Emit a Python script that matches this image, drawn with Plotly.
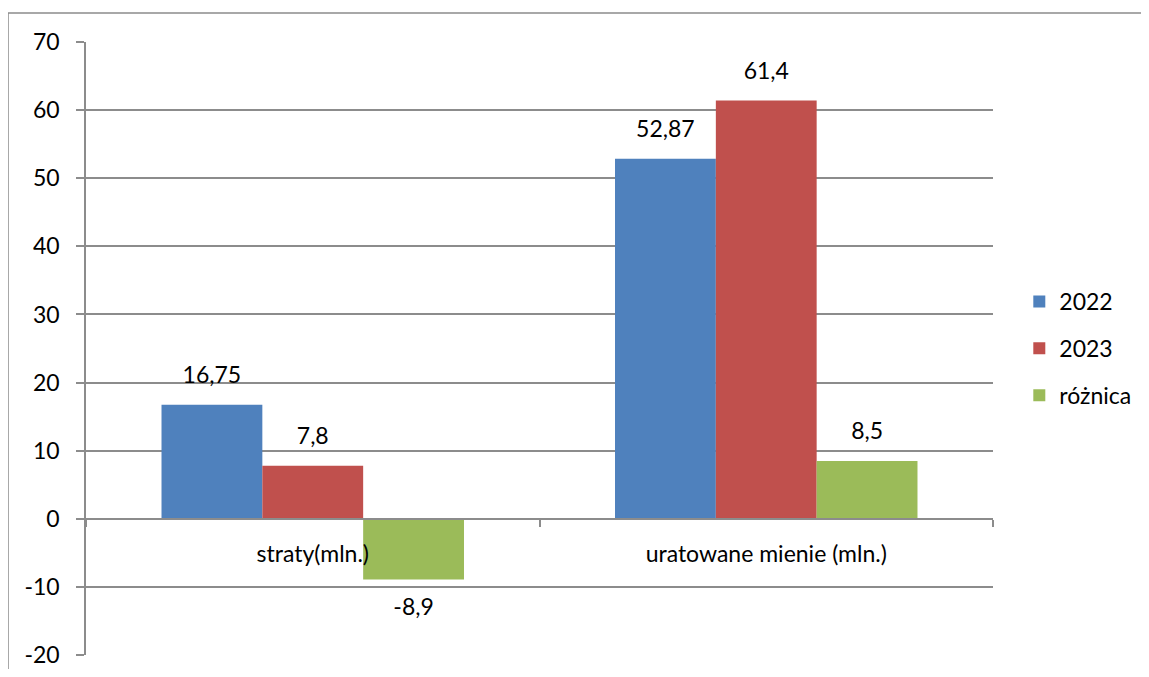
import plotly.graph_objects as go

categories = ["straty(mln.)", "uratowane mienie (mln.)"]
series_names = ["2022", "2023", "różnica"]
values_2022 = [16.75, 52.87]
values_2023 = [7.8, 61.4]
values_roznica = [-8.9, 8.5]
y_ticks = [-20, -10, 0, 10, 20, 30, 40, 50, 60, 70]

colors = ["#4F81BD", "#C0504D", "#9BBB59"]
grid = "#8C8C8C"
font_family = "Lato, 'Noto Sans', sans-serif"
FS = 23
GAP = 0.333

def fmt(v):
    return str(v).replace(".", ",")

fig = go.Figure()
all_vals = [values_2022, values_2023, values_roznica]
for name, vals, col in zip(series_names, all_vals, colors):
    fig.add_trace(go.Bar(
        x=categories, y=vals, name=name, legendgroup=name, offsetgroup=name,
        marker=dict(color=col, line=dict(width=0)),
        hoverinfo="skip",
    ))
for name, vals in zip(series_names, all_vals):
    fig.add_trace(go.Scatter(
        x=categories, y=vals, mode="markers+text", offsetgroup=name,
        marker=dict(size=[24 if v >= 0 else 28 for v in vals], opacity=0), showlegend=False,
        text=[fmt(v) for v in vals],
        textposition=["top center" if v >= 0 else "bottom center" for v in vals],
        textfont=dict(size=FS, color="black", family=font_family),
        cliponaxis=False, hoverinfo="skip",
    ))

ymin, ymax = -20, 70
fig.update_layout(
    width=1133, height=661,
    margin=dict(l=78, r=148, t=34, b=14, autoexpand=False),
    paper_bgcolor="white", plot_bgcolor="white",
    barmode="group", bargap=GAP, bargroupgap=0,
    scattermode="group", scattergap=GAP,
    font=dict(family=font_family, size=FS, color="black"),
    showlegend=True,
    legend=dict(x=1.029, y=0.5, xanchor="left", yanchor="middle",
                font=dict(size=FS, color="black"), tracegroupgap=14,
                itemwidth=30),
)
fig.update_yaxes(
    range=[ymin, ymax], tickvals=y_ticks, ticktext=[str(t) for t in y_ticks],
    showgrid=True, gridcolor=grid, gridwidth=1.5,
    showline=True, linecolor=grid, linewidth=1.5, ticks="outside", ticklen=8,
    tickcolor=grid, tickwidth=1.5, zeroline=False, ticklabelstandoff=12,
    tickfont=dict(size=FS, color="black"), automargin=False,
)
fig.update_xaxes(
    anchor="free", position=(0 - ymin) / (ymax - ymin),
    showline=True, linecolor=grid, linewidth=1.5, showgrid=False,
    ticks="outside", ticklen=7, tickcolor=grid, tickwidth=1.5, tickson="boundaries",
    ticklabelstandoff=15, tickfont=dict(size=FS, color="black"), automargin=False,
)
# outer chart border
fig.add_shape(type="rect", xref="paper", yref="paper",
              x0=-78 / 907, x1=(1160 - 86) / 907,
              y0=-(690 - 655) / 613, y1=1 + 29 / 613,
              line=dict(color=grid, width=1.5), fillcolor="rgba(0,0,0,0)", layer="below")

fig.write_html("out.html")
